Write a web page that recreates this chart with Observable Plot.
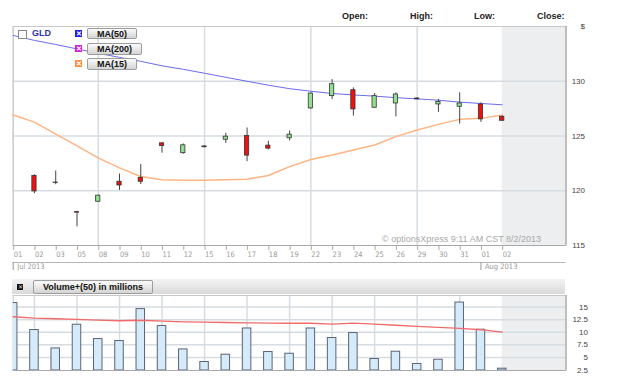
<!DOCTYPE html>
<html><head><meta charset="utf-8">
<script src="https://cdn.jsdelivr.net/npm/d3@7"></script>
<script src="https://cdn.jsdelivr.net/npm/@observablehq/plot@0.6"></script>
<style>
body{margin:0;background:#fff;}
#wrap{position:relative;width:640px;height:376px;overflow:hidden;font-family:"Liberation Sans",Arial,sans-serif;}
#wrap svg{position:absolute;left:0;overflow:visible;}
.hdr{position:absolute;top:11px;font-size:9px;font-weight:bold;color:#222;}
.btn{position:absolute;box-sizing:border-box;border:1px solid #9c9c9c;border-radius:2px;background:linear-gradient(#fbfbfb,#d4d4d4);font-size:9px;font-weight:bold;color:#111;text-align:center;}
.xb{position:absolute;width:7px;height:7px;color:#fff;font-size:7px;line-height:7px;text-align:center;font-weight:bold;}
</style></head>
<body><div id="wrap"></div>
<script>
// ---- data ----
const dates = ["01","02","03","05","08","09","10","11","12","15","16","17","18","19","22","23","24","25","26","29","30","31","01","02"];
const monthLabels = ["Jul 2013","Aug 2013"];
const monthStart = [0, 22];
const mondays = [0, 4, 9, 14, 19];
const open  = [null,121.36,120.70,118.05,119.00,120.82,121.18,124.33,123.43,123.97,124.66,125.00,124.12,124.79,127.52,128.64,129.18,127.58,127.97,128.35,127.88,127.67,127.88,126.75];
const close = [null,119.94,120.75,118.00,119.55,120.48,120.82,124.09,124.15,124.05,124.94,123.21,123.85,125.12,128.88,129.73,127.43,128.64,128.79,128.42,128.12,127.97,126.52,126.39];
const high  = [null,121.45,121.80,118.12,119.60,121.52,122.39,124.39,124.27,124.10,125.25,125.73,124.52,125.45,128.95,130.15,129.39,128.88,128.94,128.50,128.33,128.94,128.03,126.85];
const low   = [null,119.73,120.55,116.70,118.95,120.03,120.57,123.43,123.34,123.93,124.33,122.66,123.73,124.55,127.45,128.33,126.82,127.52,126.75,128.30,127.15,126.09,126.25,126.35];
const ma50  = [134.18,133.73,133.36,132.95,132.55,132.18,131.82,131.41,131.09,130.73,130.36,130.00,129.64,129.32,129.09,128.88,128.75,128.64,128.50,128.39,128.27,128.09,127.97,127.85];
const ma15  = [126.91,126.27,125.18,124.09,123.00,122.09,121.30,121.00,120.97,120.97,121.00,121.06,121.39,122.20,122.85,123.27,123.73,124.18,124.94,125.55,126.06,126.52,126.61,126.91];
const volume = [15.8,10.44,6.79,11.49,8.65,8.25,14.6,11.23,6.59,4.09,5.54,10.75,6.07,5.73,10.75,8.85,9.84,4.68,6.13,3.69,4.54,15.9,10.5,2.76];
const volMA  = [13.08,12.82,12.68,12.54,12.42,12.28,12.38,12.22,12.08,12.02,11.94,11.88,11.83,11.79,11.79,11.63,11.83,11.63,11.39,11.15,10.95,10.75,10.50,10.04];
const priceTicks = [115,120,125,130,135];
const volTicks = [2.5,5,7.5,10,12.5,15];
const copyright = "© optionsXpress 9:11 AM CST 8/2/2013";

const idx = d3.range(dates.length);
const candles = idx.filter(i => open[i] != null).map(i => ({i, o: open[i], c: close[i], h: high[i], l: low[i]}));
const lastIdx = dates.length - 1;
const xDom = [0, 26];
const common = {width: 640, marginLeft: 12.7, marginRight: 74.5, style: {background: "transparent", fontFamily: "'Liberation Sans Narrow','DejaVu Sans Condensed',sans-serif"}};
const gridC = "#d6dde2";

const wrap = document.getElementById("wrap");

// ---- price panel ----
const price = Plot.plot({
  ...common, height: 258, marginTop: 26, marginBottom: 13,
  x: {type: "linear", domain: xDom, label: null},
  y: {domain: [115, 135], label: null},
  marks: [
    Plot.rect([lastIdx], {x1: d => d, x2: xDom[1], y1: 115, y2: 135, fill: "#eceeef"}),
    Plot.gridY([120,125,130], {stroke: gridC, strokeOpacity: 1, strokeWidth: 1.5}),
    Plot.ruleX(mondays, {stroke: gridC, strokeWidth: 1.5}),
    Plot.frame({stroke: "#c8c8c8"}),
    Plot.ruleX([xDom[1]], {stroke: "#9a9a9a"}),
    Plot.ruleY([115], {stroke: "#a8a8a8"}),
    Plot.line(idx, {x: i => i, y: i => ma50[i], stroke: "#6b6bee", strokeWidth: 1}),
    Plot.line(idx, {x: i => i, y: i => ma15[i], stroke: "#ffb482", strokeWidth: 1.5}),
    Plot.ruleX(candles, {x: "i", y1: "l", y2: "h", stroke: "#444", strokeWidth: 1}),
    Plot.rect(candles, {x1: d => d.i - 0.1, x2: d => d.i + 0.1, y1: "o", y2: "c", fill: d => d.c < d.o ? "#ee1111" : "#8fe08f", stroke: "#333", strokeWidth: 0.8}),
    Plot.text([copyright], {frameAnchor: "bottom-right", dx: -25, dy: -4, fill: "#a9a9a9", fontSize: 9, fontFamily: "'Liberation Sans',Arial,sans-serif"}),
    Plot.axisY(priceTicks, {anchor: "right", label: null, tickSize: 0, tickPadding: 19, textAnchor: "end", tickFormat: d => d === 135 ? "$" : String(d), fontSize: 8, fill: "#444", fontFamily: "'Liberation Sans',Arial,sans-serif"}),
    Plot.axisX(idx, {anchor: "bottom", label: null, tickSize: 5, tickPadding: 1, tickFormat: i => dates[i], textAnchor: "start", dx: 0.5, fontSize: 7.5, fill: "#999", stroke: "#aaa"})
  ]
});
price.style.top = "0px";
wrap.appendChild(price);

// ---- month band ----
const month = Plot.plot({
  ...common, height: 22, marginTop: 4, marginBottom: 10,
  x: {type: "linear", domain: xDom, axis: null, label: null},
  y: {domain: [0, 1], axis: null, label: null},
  marks: [
    Plot.ruleY([1], {stroke: "#b5b5b5"}),
    Plot.ruleX(monthStart, {y1: 0, y2: 1, stroke: "#999"}),
    Plot.text(monthStart, {x: d => d, y: 0.5, text: (d, j) => monthLabels[j], textAnchor: "start", dx: 4, fontSize: 7.5, fill: "#999"})
  ]
});
month.style.top = "258px";
wrap.appendChild(month);

// ---- volume panel ----
const vol = Plot.plot({
  ...common, height: 88, marginTop: 7, marginBottom: 6,
  x: {type: "linear", domain: xDom, axis: null, label: null},
  y: {domain: [2.4, 17.3], label: null},
  marks: [
    Plot.rect([lastIdx], {x1: d => d, x2: xDom[1], y1: 2.4, y2: 17.3, fill: "#eceeef"}),
    Plot.gridY([5,7.5,10,12.5,15], {stroke: gridC, strokeOpacity: 1, strokeWidth: 1.5}),
    Plot.ruleX(idx.filter(i => i % 2 === 1 && i < lastIdx), {stroke: gridC, strokeWidth: 1.5}),
    Plot.frame({stroke: "#c8c8c8"}),
    Plot.ruleX([xDom[1]], {stroke: "#9a9a9a"}),
    Plot.ruleY([2.4], {stroke: "#a8a8a8"}),
    Plot.rect(idx, {x1: i => i - 0.2, x2: i => i + 0.2, y1: 2.4, y2: i => volume[i], fill: "#d5ebfa", stroke: "#5a6378", strokeWidth: 1, clip: true}),
    Plot.line(idx, {x: i => i, y: i => volMA[i], stroke: "#f26a6a", strokeWidth: 1.3}),
    Plot.axisY(volTicks, {anchor: "right", label: null, tickSize: 0, tickPadding: 22, textAnchor: "end", tickFormat: d => String(d), fontSize: 8, fill: "#444", fontFamily: "'Liberation Sans',Arial,sans-serif"})
  ]
});
vol.style.top = "288px";
wrap.appendChild(vol);

// ---- HTML chrome: header, legend, volume header ----
function el(html){ const d = document.createElement("div"); d.innerHTML = html; while (d.firstChild) wrap.appendChild(d.firstChild); }
el(`<div class="hdr" style="left:342px">Open:</div>
<div class="hdr" style="left:410px">High:</div>
<div class="hdr" style="left:474px">Low:</div>
<div class="hdr" style="left:537px">Close:</div>
<div style="position:absolute;left:18px;top:30px;width:7px;height:7px;border:1px solid #888;background:#fff"></div>
<div style="position:absolute;left:32px;top:28px;font-size:9px;font-weight:bold;color:#2a36a8">GLD</div>
<div class="xb" style="left:75px;top:30px;background:#1e1ee6">✕</div>
<div class="xb" style="left:75px;top:45px;background:#d21ed2">✕</div>
<div class="xb" style="left:75px;top:60px;background:#ff8a3c">✕</div>
<div class="btn" style="left:87px;top:28px;width:50px;height:11px;line-height:10px">MA(50)</div>
<div class="btn" style="left:87px;top:43px;width:55px;height:12px;line-height:11px">MA(200)</div>
<div class="btn" style="left:87px;top:58px;width:50px;height:12px;line-height:11px">MA(15)</div>
<div style="position:absolute;left:12px;top:279px;width:553px;height:15px;background:linear-gradient(#f3f3f3,#d9d9d9)"></div>
<div style="position:absolute;left:17px;top:284px;width:6px;height:6px;background:#111;color:#ddd;font-size:6px;line-height:6px;text-align:center">✕</div>
<div class="btn" style="left:33px;top:280px;width:120px;height:14px;line-height:13px">Volume+(50) in millions</div>`);
</script>
</body></html>
